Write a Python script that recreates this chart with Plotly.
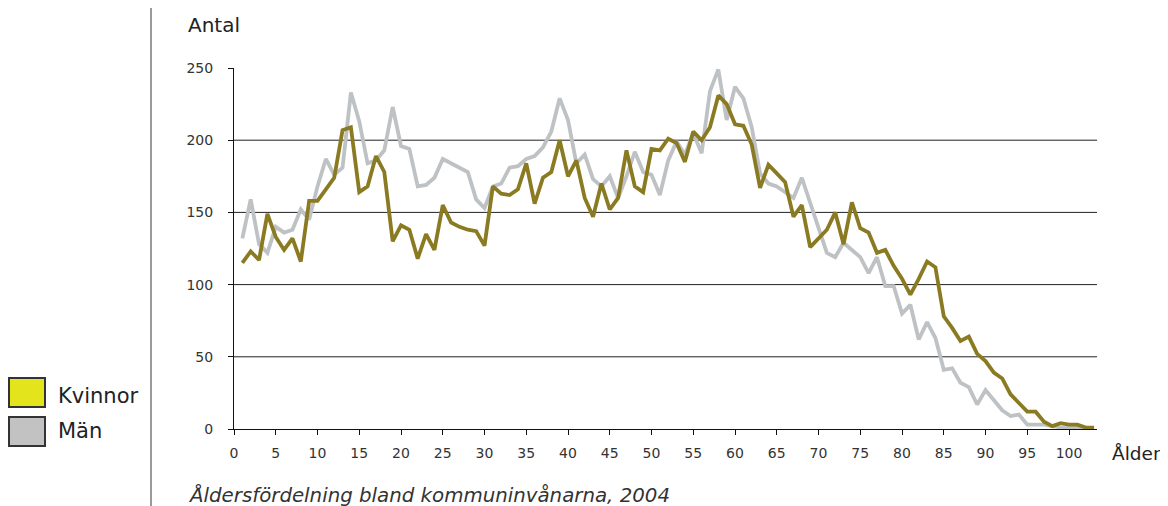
import plotly.graph_objects as go

# x positions (category index along the age axis)
ages = list(range(1, 104))

kvinnor = [115, 123, 117, 149, 133, 124, 132, 116, 158, 158,
           166, 174, 207, 209, 164, 168, 189, 178, 130, 141,
           138, 118, 135, 124, 155, 143, 140, 138, 137, 127,
           168, 163, 162, 166, 184, 156, 174, 178, 200, 175,
           186, 160, 147, 170, 152, 160, 193, 168, 164, 194,
           193, 201, 198, 185, 206, 200, 209, 231, 225, 211,
           210, 197, 167, 183, 177, 171, 147, 155, 126, 132,
           138, 150, 128, 157, 139, 136, 122, 124, 113, 104,
           93, 104, 116, 112, 78, 70, 61, 64, 52, 47,
           39, 35, 24, 18, 12, 12, 5, 2, 4, 3,
           3, 1, 1]

man = [132, 159, 128, 122, 140, 136, 138, 152, 145, 168,
       187, 176, 181, 233, 213, 184, 186, 193, 223, 196,
       194, 168, 169, 174, 187, 184, 181, 178, 159, 153,
       168, 170, 181, 182, 187, 189, 195, 206, 229, 214,
       184, 190, 173, 168, 175, 160, 175, 192, 178, 176,
       162, 186, 199, 190, 205, 191, 234, 249, 214, 237,
       229, 209, 177, 170, 168, 164, 160, 174, 157, 140,
       122, 119, 129, 124, 119, 108, 119, 99, 99, 80,
       86, 62, 74, 63, 41, 42, 32, 29, 17, 27,
       20, 13, 9, 10, 3, 3, 3, 2, 1, 1,
       1, 0, 0]

x_ticks = list(range(0, 101, 5))
y_ticks = [0, 50, 100, 150, 200, 250]
grid_vals = [50, 100, 150, 200]

# page body has an 8px margin, so the figure is sized/positioned to compensate
OFF = 8
W, H = 1168 - OFF, 506 - OFF
L, R, T, B = 234 - OFF, 71, 68 - OFF, 77
PW, PH = W - L - R, H - T - B


def px(x):
    return (x - OFF - L) / PW


def py(y):
    return (H - B - (y - OFF)) / PH


FONT = "DejaVu Sans"
OLIVE = "#8a7a22"
GREY = "#bec2c5"

fig = go.Figure()
fig.add_trace(go.Scatter(x=ages, y=man, mode="lines", name="Män",
                         line=dict(color=GREY, width=3.8), showlegend=False))
fig.add_trace(go.Scatter(x=ages, y=kvinnor, mode="lines", name="Kvinnor",
                         line=dict(color=OLIVE, width=3.8), showlegend=False))

shapes = []
for g in grid_vals:
    shapes.append(dict(type="line", xref="paper", yref="y", x0=0, x1=1, y0=g, y1=g,
                       line=dict(color="#222", width=1), layer="below"))
# separator line
shapes.append(dict(type="line", xref="paper", yref="paper", x0=px(151), x1=px(151),
                   y0=py(506), y1=py(0), line=dict(color="#9a9a9a", width=2)))
# legend boxes
shapes.append(dict(type="rect", xref="paper", yref="paper", x0=px(9), x1=px(45),
                   y0=py(407), y1=py(378), fillcolor="#e4e41c",
                   line=dict(color="#333", width=2)))
shapes.append(dict(type="rect", xref="paper", yref="paper", x0=px(9), x1=px(45),
                   y0=py(446), y1=py(417), fillcolor="#c2c2c2",
                   line=dict(color="#333", width=2)))

annotations = [
    dict(text="Antal", xref="paper", yref="paper", x=px(186), y=py(25),
         xanchor="left", yanchor="middle", showarrow=False,
         font=dict(family=FONT, size=20, color="#222")),
    dict(text="Ålder", xref="paper", yref="paper", x=px(1110), y=py(453),
         xanchor="left", yanchor="middle", showarrow=False,
         font=dict(family=FONT, size=18.5, color="#222")),
    dict(text="<i>Åldersfördelning bland kommuninvånarna, 2004</i>", xref="paper",
         yref="paper", x=px(186), y=py(495), xanchor="left", yanchor="middle",
         showarrow=False, font=dict(family=FONT, size=19.8, color="#333")),
    dict(text="Kvinnor", xref="paper", yref="paper", x=px(56), y=py(396),
         xanchor="left", yanchor="middle", showarrow=False,
         font=dict(family=FONT, size=21, color="#222")),
    dict(text="Män", xref="paper", yref="paper", x=px(56), y=py(431),
         xanchor="left", yanchor="middle", showarrow=False,
         font=dict(family=FONT, size=21, color="#222")),
]

fig.update_layout(
    width=W, height=H,
    margin=dict(l=L, r=R, t=T, b=B, pad=0),
    paper_bgcolor="white", plot_bgcolor="white",
    shapes=shapes, annotations=annotations,
    showlegend=False,
    xaxis=dict(range=[0, 103.35], tickvals=x_ticks, showgrid=False, zeroline=False,
               showline=True, linecolor="#111", linewidth=1,
               ticks="outside", ticklen=5, tickcolor="#111",
               ticklabelstandoff=6,
               tickfont=dict(family=FONT, size=14, color="#333")),
    yaxis=dict(range=[0, 250], tickvals=y_ticks, showgrid=False, zeroline=False,
               showline=True, linecolor="#111", linewidth=1,
               ticks="outside", ticklen=5, tickcolor="#111",
               ticklabelstandoff=12,
               tickfont=dict(family=FONT, size=14, color="#333")),
)

fig.write_html("out.html")
